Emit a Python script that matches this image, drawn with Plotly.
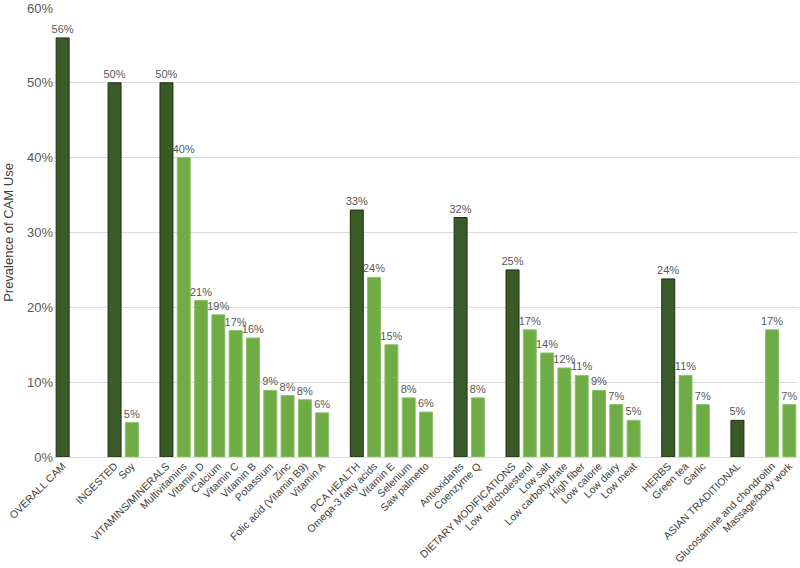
import plotly.graph_objects as go

# Category labels ("" = empty spacer slot)
categories = [
    "OVERALL CAM", "", "",
    "INGESTED", "Soy", "",
    "VITAMINS/MINERALS", "Multivitamins", "Vitamin D", "Calcium", "Vitamin C",
    "Vitamin B", "Potassium", "Zinc", "Folic acid (Vitamin B9)", "Vitamin A", "",
    "PCA HEALTH", "Omega-3 fatty acids", "Vitamin E", "Selenium", "Saw palmetto", "",
    "Antioxidants", "Coenzyme Q", "",
    "DIETARY MODIFICATIONS", "Low  fat/cholesterol", "Low salt", "Low carbohydrate",
    "High fiber", "Low calorie", "Low dairy", "Low meat", "",
    "HERBS", "Green tea", "Garlic", "",
    "ASIAN TRADITIONAL", "",
    "Glucosamine and chondroitin", "Massage/body work",
]

# Prevalence (%) (None = spacer)
values = [
    56, None, None,
    50, 4.6, None,
    50, 40, 20.9, 19.0, 16.9, 15.9, 8.9, 8.2, 7.65, 5.9, None,
    33, 24, 15, 7.9, 6.0, None,
    32, 7.9, None,
    25, 17, 13.9, 11.9, 10.9, 8.9, 7.0, 4.9, None,
    23.8, 10.9, 7.0, None,
    4.9, None,
    17, 7.0,
]

# Group headers (dark bars)
headers = ["OVERALL CAM", "INGESTED", "VITAMINS/MINERALS", "PCA HEALTH",
           "Antioxidants", "DIETARY MODIFICATIONS", "HERBS", "ASIAN TRADITIONAL"]

DARK = "#3a5a28"
LIGHT = "#6fac46"

idx = list(range(len(categories)))
hx, hy, ht, ix, iy, it = [], [], [], [], [], []
for i, (c, v) in enumerate(zip(categories, values)):
    if v is None:
        continue
    lab = f"{round(v)}%"
    if c in headers:
        hx.append(i); hy.append(v); ht.append(lab)
    else:
        ix.append(i); iy.append(v); it.append(lab)

font_fam = "Liberation Sans, Arial, sans-serif"
fig = go.Figure()
fig.add_trace(go.Bar(
    x=hx, y=hy, text=ht, textposition="outside", cliponaxis=False,
    constraintext="none",
    marker=dict(color=DARK, line=dict(color="#1e2e14", width=1)),
    textfont=dict(size=11, color="#595959", family=font_fam),
    width=0.75, hoverinfo="skip",
))
fig.add_trace(go.Bar(
    x=ix, y=iy, text=it, textposition="outside", cliponaxis=False,
    constraintext="none",
    marker=dict(color=LIGHT, line=dict(color="#8cc06a", width=1)),
    textfont=dict(size=11, color="#595959", family=font_fam),
    width=0.75, hoverinfo="skip",
))

fig.update_layout(
    width=800, height=568,
    margin=dict(l=54, r=2, t=8, b=111),
    paper_bgcolor="white", plot_bgcolor="white",
    showlegend=False, barmode="overlay",
    font=dict(family=font_fam, color="#595959"),
    xaxis=dict(
        range=[-0.5, len(categories) - 0.5],
        tickmode="array", tickvals=[i for i in idx if categories[i]],
        ticktext=[c for c in categories if c],
        tickangle=-45, tickfont=dict(size=10.5, color="#404040"),
        showgrid=False, zeroline=False, showline=False, ticks="",
        automargin=False,
    ),
    yaxis=dict(
        range=[0, 60], tickvals=[0, 10, 20, 30, 40, 50, 60],
        ticktext=["0%", "10%", "20%", "30%", "40%", "50%", "60%"],
        tickfont=dict(size=13, color="#595959"),
        showgrid=True, gridcolor="#d9d9d9", gridwidth=1,
        zeroline=True, zerolinecolor="#d9d9d9", zerolinewidth=1,
        showline=False, ticks="", automargin=False,
        title=dict(text="Prevalence of CAM Use", font=dict(size=13, color="#404040"),
                   standoff=10),
    ),
)

fig.write_html("out.html", config={"displayModeBar": False},
               post_script="document.body.style.margin='0';document.body.style.overflow='hidden';")
